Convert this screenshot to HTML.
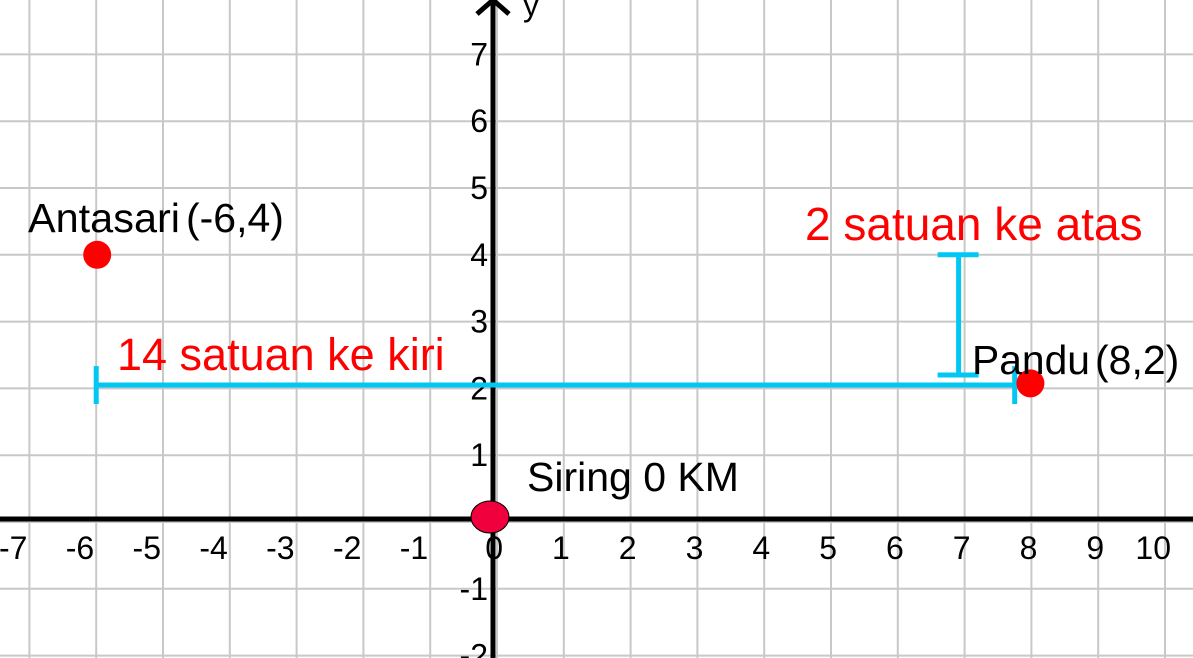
<!DOCTYPE html>
<html><head><meta charset="utf-8"><style>
html,body{margin:0;background:#fff;overflow:hidden;width:1193px;height:658px}
svg{display:block;font-family:"Liberation Sans",sans-serif}
</style></head><body>
<svg id="c" width="1193" height="658" viewBox="0 0 1193 658"></svg>
<script>
const xTicks=[-7,-6,-5,-4,-3,-2,-1,0,1,2,3,4,5,6,7,8,9,10];
const yTicks=[-2,-1,1,2,3,4,5,6,7];
const pointNames=["Antasari","Pandu"];
const pointX=[-6,8];
const pointY=[4,2];
const hSeg=[-6,7.75,2.05];
const vSeg=[7,4,2.2];
const ns="http://www.w3.org/2000/svg";
const svg=document.getElementById('c');
const U=66.8, OX=497, OY=522;
const sx=v=>OX+v*U, sy=v=>OY-v*U;
function mk(t,a,p){const e=document.createElementNS(ns,t);for(const k in a)e.setAttribute(k,a[k]);(p||svg).appendChild(e);return e;}
const g=mk('g',{});


for(let i=-8;i<=11;i++)mk('line',{x1:sx(i),x2:sx(i),y1:0,y2:658,stroke:'#c8c8c8','stroke-width':2},g);
for(let j=-3;j<=8;j++)mk('line',{y1:sy(j),y2:sy(j),x1:0,x2:1193,stroke:'#c8c8c8','stroke-width':2},g);
const xa=mk('line',{x1:0,x2:1193,y1:OY-3,y2:OY-3,stroke:'#000','stroke-width':5});


const ya=mk('line',{x1:OX-4,x2:OX-4,y1:0,y2:658,stroke:'#000','stroke-width':5});


const ar=mk('path',{d:`M${OX-20} 14 L${OX-4} 0 L${OX+12} 14`,fill:'none',stroke:'#000','stroke-width':5});


const yl=mk('text',{x:OX+26,y:16,'font-size':32});yl.textContent='y';


xTicks.forEach(v=>{const t=mk('text',{x:sx(v)-(v<0?2:-6),y:OY+37,'font-size':32,'text-anchor':'end'});t.textContent=v;

});
yTicks.forEach(v=>{const t=mk('text',{x:OX-9,y:sy(v)+11,'font-size':32,'text-anchor':'end'});t.textContent=v;

});
const cy='#00c8f2';
const hs=mk('g',{stroke:cy,'stroke-width':5});


mk('line',{x1:sx(hSeg[0]),x2:sx(hSeg[1]),y1:sy(hSeg[2]),y2:sy(hSeg[2])},hs);
mk('line',{x1:sx(hSeg[0]),x2:sx(hSeg[0]),y1:sy(hSeg[2])-19,y2:sy(hSeg[2])+19},hs);
mk('line',{x1:sx(hSeg[1]),x2:sx(hSeg[1]),y1:sy(hSeg[2])-19,y2:sy(hSeg[2])+19},hs);
const vs=mk('g',{stroke:cy,'stroke-width':5});


const vx=sx(vSeg[0])-6;
mk('line',{x1:vx,x2:vx,y1:sy(vSeg[1]),y2:sy(vSeg[2])},vs);
mk('line',{x1:vx-21,x2:vx+20,y1:sy(vSeg[1]),y2:sy(vSeg[1])},vs);
mk('line',{x1:vx-21,x2:vx+20,y1:sy(vSeg[2]),y2:sy(vSeg[2])},vs);
const pts=[[pointX[0],pointY[0],'antasari-point',28,218,'(-6,4)',186],[pointX[1],pointY[1],'pandu-point',972,360,'(8,2)',1095]];
pts.forEach((p,i)=>{const c=mk('circle',{cx:sx(p[0])+(i?-1:1),cy:sy(p[1])+(i?-5:0),r:14,fill:'#f00'});


const t=mk('text',{x:p[3],y:p[4]+14,'font-size':41,textLength:i?118:152,lengthAdjust:'spacingAndGlyphs'});t.textContent=pointNames[i];


const t2=mk('text',{x:p[6],y:p[4]+14,'font-size':41});t2.textContent=p[5];

});
const o=mk('ellipse',{cx:OX-7,cy:OY-5,rx:19,ry:16,fill:'#f0003c',stroke:'#000','stroke-width':1});


const ot=mk('text',{x:527,y:491,'font-size':41});ot.textContent='Siring 0 KM';


const l1=mk('text',{x:117,y:370,'font-size':45,fill:'#f00'});l1.textContent='14 satuan ke kiri';


const l2=mk('text',{x:805,y:240,'font-size':46,fill:'#f00'});l2.textContent='2 satuan ke atas';


</script>
</body></html>
